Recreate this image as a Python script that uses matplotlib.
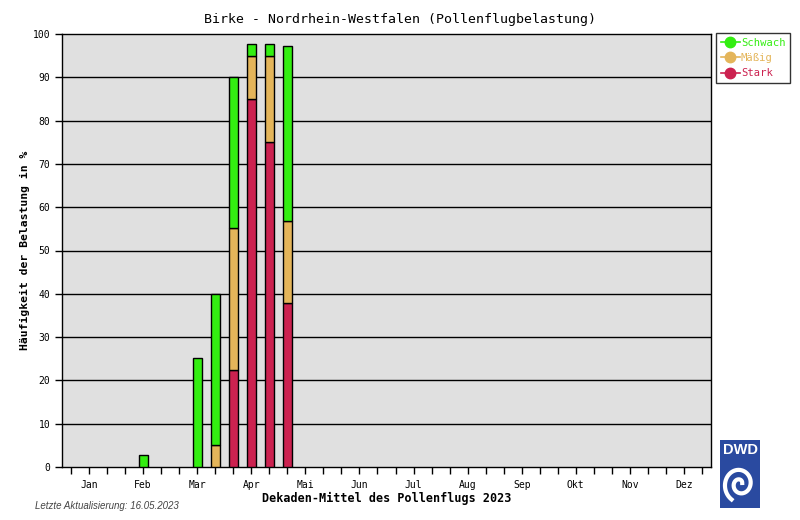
import numpy as np
import matplotlib
matplotlib.use("Agg")
import matplotlib.pyplot as plt
from matplotlib.lines import Line2D

# decade positions 0..35 (3 per month)
months = ["Jan", "Feb", "Mar", "Apr", "Mai", "Jun", "Jul", "Aug", "Sep", "Okt", "Nov", "Dez"]
decades = np.arange(36)

# segment heights in %, index -> value
stark_vals = {9: 22.5, 10: 85.0, 11: 75.0, 12: 37.8}
maessig_vals = {8: 5.0, 9: 32.6, 10: 10.0, 11: 20.0, 12: 18.9}
schwach_vals = {4: 2.7, 7: 25.1, 8: 35.0, 9: 35.0, 10: 2.6, 11: 2.6, 12: 40.6}

stark = np.array([stark_vals.get(i, 0.0) for i in decades])
maessig = np.array([maessig_vals.get(i, 0.0) for i in decades])
schwach = np.array([schwach_vals.get(i, 0.0) for i in decades])

c_green = "#33ee11"
c_orange = "#e4b55a"
c_red = "#cc2250"
mono = "DejaVu Sans Mono"

fig = plt.figure(figsize=(8, 5.2), dpi=100)
ax = fig.add_axes([62/800, 53/520, 649/800, 433/520])
ax.set_facecolor("#e0e0e0")

for y in range(10, 100, 10):
    ax.axhline(y, color="black", lw=1, zorder=1)

w = 0.5
kw = dict(width=w, edgecolor="black", linewidth=1, zorder=3)
m = stark > 0
ax.bar(decades[m], stark[m], color=c_red, **kw)
m = maessig > 0
ax.bar(decades[m], maessig[m], bottom=stark[m], color=c_orange, **kw)
m = schwach > 0
ax.bar(decades[m], schwach[m], bottom=(stark + maessig)[m], color=c_green, **kw)

ax.set_xlim(-0.5, 35.5)
ax.set_ylim(0, 100)
ax.set_xticks(decades)
ax.set_xticklabels([months[i // 3] if i % 3 == 1 else "" for i in decades],
                   fontfamily=mono, fontsize=7)
ax.set_yticks(range(0, 101, 10))
ax.set_yticklabels([str(v) for v in range(0, 101, 10)], fontfamily=mono, fontsize=7)
ax.tick_params(axis="both", direction="out", length=5, width=1, color="black")
ax.tick_params(axis="x", pad=4)
for s in ax.spines.values():
    s.set_linewidth(1)

ax.set_xlabel("Dekaden-Mittel des Pollenflugs 2023", fontfamily=mono,
              fontsize=8.5, fontweight="bold", labelpad=2)
ax.set_ylabel("Häufigkeit der Belastung in %", fontfamily=mono,
              fontsize=8.2, fontweight="bold", labelpad=0)
ax.yaxis.set_label_coords(-32/649, 0.5)
fig.text(400/800, 1 - 19/520, "Birke - Nordrhein-Westfalen (Pollenflugbelastung)",
         ha="center", va="center", fontfamily=mono, fontsize=9.5)

handles = [Line2D([], [], color=c, marker="o", markersize=7.5, lw=1.2)
           for c in (c_green, c_orange, c_red)]
leg = fig.legend(handles, ["Schwach", "Mäßig", "Stark"],
                 loc="upper left", bbox_to_anchor=(716/800, 1 - 33/520),
                 prop={"family": mono, "size": 7.6}, frameon=True, fancybox=False,
                 edgecolor="black", handlelength=1.8, handletextpad=0.1,
                 borderpad=0.45, labelspacing=0.5, borderaxespad=0)
leg.get_frame().set_linewidth(1)
for t, c in zip(leg.get_texts(), (c_green, c_orange, c_red)):
    t.set_color(c)

fig.text(35/800, 1 - 506/520, "Letzte Aktualisierung: 16.05.2023", style="italic",
         color="#444444", fontsize=7, fontfamily="Liberation Sans", va="center")

# DWD logo
lg = fig.add_axes([720/800, 12/520, 40/800, 68/520])
lg.set_facecolor("#2a4aa0")
lg.set_xlim(-1, 1)
lg.set_ylim(-1.3, 2.1)
lg.set_xticks([])
lg.set_yticks([])
for s in lg.spines.values():
    s.set_visible(False)
lg.text(0, 1.6, "DWD", color="white", fontweight="bold", fontsize=10.5,
        ha="center", va="center", fontfamily="Liberation Sans")
th = np.linspace(0, 3.2 * np.pi, 200)
r = 0.12 + 0.7 * th / th.max()
lg.plot(r * np.cos(th + 0.4), -0.1 + 1.1 * r * np.sin(th + 0.4), color="white", lw=3)

fig.savefig("out.png", dpi=100)
